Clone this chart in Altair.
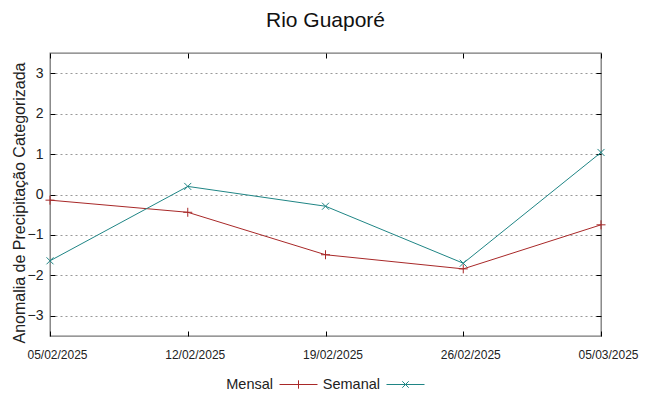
import altair as alt
import pandas as pd

dates = ["05/02/2025", "12/02/2025", "19/02/2025", "26/02/2025", "05/03/2025"]
mensal = [-0.14, -0.44, -1.49, -1.84, -0.75]
semanal = [-1.64, 0.20, -0.29, -1.70, 1.04]
series = ["Mensal", "Semanal"]
colors = ["#a82828", "#1f8585"]
y_ticks = [-3, -2, -1, 0, 1, 2, 3]

rows = []
for d, m, s in zip(dates, mensal, semanal):
    rows.append({"date": d, "value": m, "series": "Mensal"})
    rows.append({"date": d, "value": s, "series": "Semanal"})
df = pd.DataFrame(rows)

FONT = "Liberation Sans"
PLUS = "M-1,0H1M0,-1V1"
CROSS = "M-1,-1L1,1M-1,1L1,-1"
LEG_PLUS = "M-1,0H1M0,-0.22V0.22"
LEG_CROSS = "M-1,0H1M-0.17,-0.17L0.17,0.17M-0.17,0.17L0.17,-0.17"

xscale = alt.Scale(type="point", padding=0, domain=dates)
yscale = alt.Scale(domain=[-3.5, 3.5], nice=False, zero=False)

x_bottom = alt.Axis(
    orient="bottom", title=None, domain=False, grid=False,
    offset=-5, tickSize=5, tickColor="black", labelAngle=0,
    labelFont=FONT, labelFontSize=12, labelColor="#222",
    labelPadding=13, labelOffset=7, labelFlush=False,
)
y_left = alt.Axis(
    orient="left", values=y_ticks, domain=False, grid=True,
    gridDash=[2, 3], gridColor="#999", gridWidth=1,
    offset=-5, tickSize=5, tickColor="black",
    labelFont=FONT, labelFontSize=14, labelColor="#222", labelPadding=7,
    title="Anomalia de Precipitação Categorizada", titleFont=FONT,
    titleFontSize=16, titleFontWeight="normal", titleColor="#222",
    titlePadding=0, titleY=149.5,
)
x_top = alt.Axis(orient="top", title=None, domain=False, grid=False, labels=False,
                 offset=-5, tickSize=5, tickColor="black")
y_right = alt.Axis(orient="right", values=y_ticks, title=None, domain=False,
                   grid=False, labels=False, offset=-5, tickSize=5, tickColor="black")

base = alt.Chart(df)
mens = base.transform_filter(alt.datum.series == "Mensal")
sema = base.transform_filter(alt.datum.series == "Semanal")

line_m = mens.mark_line(strokeWidth=1, color=colors[0]).encode(
    x=alt.X("date:O", scale=xscale, axis=x_bottom, sort=dates),
    y=alt.Y("value:Q", scale=yscale, axis=y_left),
)
line_s = sema.mark_line(strokeWidth=1, color=colors[1]).encode(
    x=alt.X("date:O", scale=xscale, axis=None, sort=dates),
    y=alt.Y("value:Q", scale=yscale, axis=None),
)
pts_m = mens.mark_point(
    shape=PLUS, size=81, filled=False, strokeWidth=1, opacity=1, color=colors[0]
).encode(
    x=alt.X("date:O", scale=xscale, axis=x_top, sort=dates),
    y=alt.Y("value:Q", scale=yscale, axis=y_right),
)
pts_s = sema.mark_point(
    shape=CROSS, size=49, filled=False, strokeWidth=1, opacity=1, color=colors[1]
).encode(
    x=alt.X("date:O", scale=xscale, axis=None, sort=dates),
    y=alt.Y("value:Q", scale=yscale, axis=None),
)

legend = alt.Legend(
    orient="none", legendX=229, legendY=312, direction="horizontal", title=None,
    labelFont=FONT, labelFontSize=14.5, labelColor="#222",
    labelAlign="right", labelOffset={"expr": "-45"}, columnPadding=2,
    symbolSize=1444, symbolStrokeWidth=1, symbolOpacity=1,
)

leg = base.mark_point(filled=False, strokeWidth=1, opacity=0).encode(
    x=alt.X("date:O", scale=xscale, axis=None, sort=dates),
    y=alt.Y("value:Q", scale=yscale, axis=None),
    color=alt.Color("series:N", scale=alt.Scale(domain=series, range=colors), legend=legend),
    shape=alt.Shape("series:N", scale=alt.Scale(domain=series, range=[LEG_PLUS, LEG_CROSS]),
                    legend=legend),
)

chart = alt.layer(line_m, line_s, pts_m, pts_s, leg).resolve_scale(
    x="independent", y="independent"
).properties(
    width=551, height=283,
    title=alt.TitleParams("Rio Guaporé", font=FONT, fontSize=21, fontWeight="normal",
                          color="#111", anchor="middle", offset=22),
    autosize=alt.AutoSizeParams(type="none"),
    padding={"left": 42, "top": 45, "right": 40, "bottom": 60},
).configure_view(stroke="#777", strokeWidth=1.3)

chart.save("out.html", embed_options={"renderer": "svg", "actions": False})
